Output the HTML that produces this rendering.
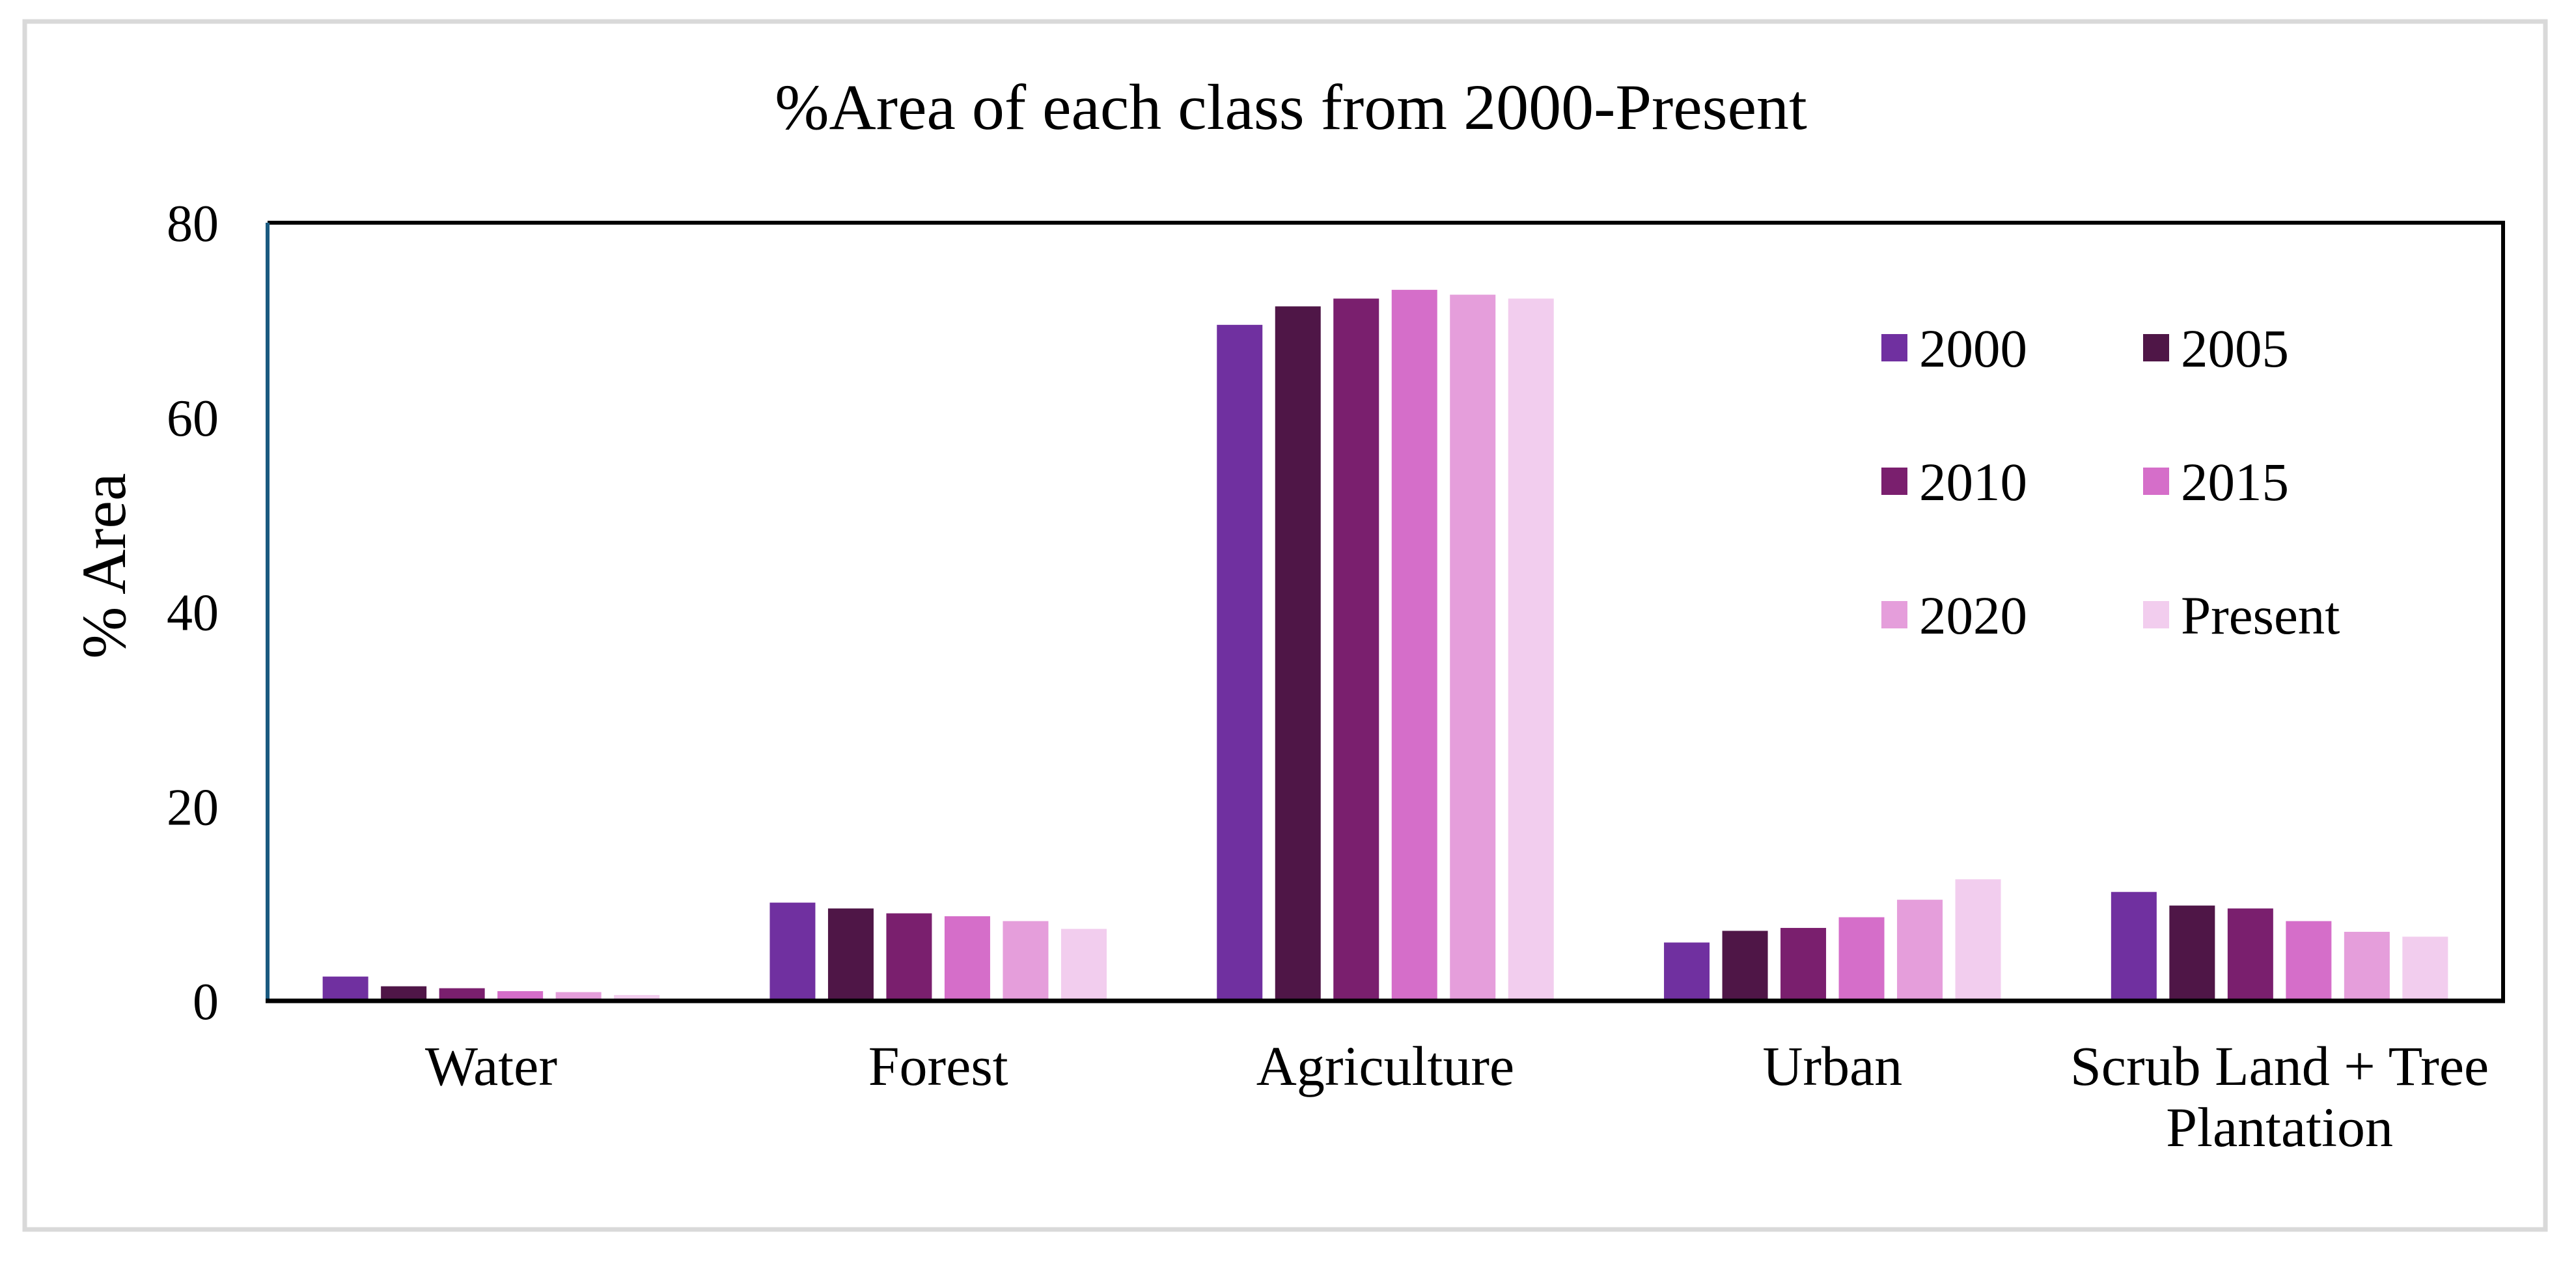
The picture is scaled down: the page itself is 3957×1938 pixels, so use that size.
<!DOCTYPE html>
<html><head><meta charset="utf-8"><style>
html,body{margin:0;padding:0;background:#fff;}
svg{display:block;font-family:"Liberation Serif",serif;}
</style></head><body>
<svg id="chart" width="3957" height="1938" viewBox="0 0 3957 1938" xmlns="http://www.w3.org/2000/svg">
<rect x="38" y="33" width="3872" height="1855" fill="#fff" stroke="#d9d9d9" stroke-width="7"/>
<text x="1983" y="198" font-size="100" text-anchor="middle" fill="#000">%Area of each class from 2000-Present</text>
<text transform="translate(192,869) rotate(-90)" font-size="96" text-anchor="middle" fill="#000">% Area</text>
<g id="bars"></g>
<g id="yticks"></g>
<g id="xlabels"></g>
<line id="topb" x1="411" y1="342" x2="3845" y2="342" stroke="#000" stroke-width="6"/>
<line id="rightb" x1="3845" y1="339" x2="3845" y2="1540" stroke="#000" stroke-width="6"/>
<line x1="411" y1="342" x2="411" y2="1537" stroke="#1a5a80" stroke-width="6"/>
<line id="xaxis" x1="408" y1="1537" x2="3848" y2="1537" stroke="#000" stroke-width="7"/>
<g id="legend"></g>
</svg>
<script>
const categories = ["Water", "Forest", "Agriculture", "Urban", "Scrub Land + Tree|Plantation"];
const seriesNames = ["2000", "2005", "2010", "2015", "2020", "Present"];
const s2000 = [2.5, 10.1, 69.5, 6.0, 11.2];
const s2005 = [1.5, 9.5, 71.4, 7.2, 9.8];
const s2010 = [1.3, 9.0, 72.2, 7.5, 9.5];
const s2015 = [1.0, 8.7, 73.1, 8.6, 8.2];
const s2020 = [0.9, 8.2, 72.6, 10.4, 7.1];
const sPresent = [0.6, 7.4, 72.2, 12.5, 6.6];
const yTicks = [0, 20, 40, 60, 80];
const colors = ["#7030a0", "#4f1647", "#7a1f6e", "#d56ec9", "#e59edb", "#f2cdee"];

const NS = "http://www.w3.org/2000/svg";
const series = [s2000, s2005, s2010, s2015, s2020, sPresent];
const X0 = 411, X1 = 3845, Y0 = 1537, Y1 = 342, YMAX = 80;
const catW = (X1 - X0) / categories.length;
const pitch = 89.5, barW = 70;
function yScale(v){ return Y0 - (v / YMAX) * (Y0 - Y1); }
function xCenter(i){ return X0 + catW * (i + 0.5); }
function mk(tag, attrs, parent){ const e = document.createElementNS(NS, tag); for (const k in attrs) e.setAttribute(k, attrs[k]); parent.appendChild(e); return e; }

const gb = document.getElementById("bars");
series.forEach((vals, s) => {
  vals.forEach((v, i) => {
    const x = xCenter(i) - (series.length / 2) * pitch + s * pitch + (pitch - barW) / 2;
    const r = mk("rect", {x: x, y: yScale(v), width: barW, height: Y0 - yScale(v), fill: colors[s]}, gb);
    
    
  });
});

const gy = document.getElementById("yticks");
yTicks.forEach(t => {
  const tx = mk("text", {x: 336, y: yScale(t) + 28, "font-size": 80, "text-anchor": "end", fill: "#000"}, gy);
  tx.textContent = t;
  
  
});

const gx = document.getElementById("xlabels");
categories.forEach((c, i) => {
  const lines = c.split("|");
  lines.forEach((ln, j) => {
    const tx = mk("text", {x: xCenter(i), y: 1666 + j * 94, "font-size": 86, "text-anchor": "middle", fill: "#000"}, gx);
    tx.textContent = ln;
    
    
  });
});

const gl = document.getElementById("legend");
seriesNames.forEach((n, k) => {
  const col = k % 2, row = Math.floor(k / 2);
  const sx = 2890 + col * 402, cy = 534 + row * 205;
  const g = mk("g", {}, gl);
  
  
  mk("rect", {x: sx, y: cy - 21, width: 40, height: 42, fill: colors[k]}, g);
  const tx = mk("text", {x: sx + 58, y: cy + 29, "font-size": 83, fill: "#000"}, g);
  tx.textContent = n;
});
</script>
</body></html>
